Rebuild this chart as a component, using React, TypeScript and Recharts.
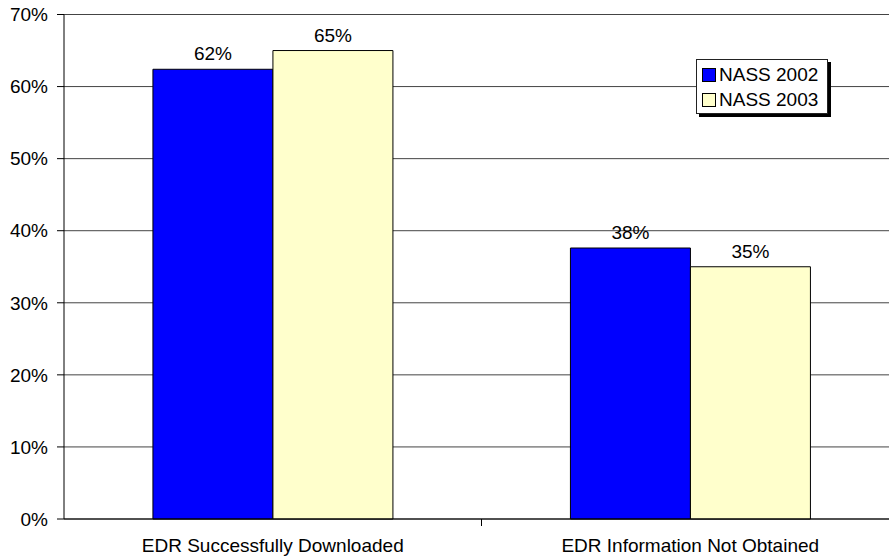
import React from 'react';
import { BarChart, Bar, XAxis, YAxis, CartesianGrid, LabelList } from 'recharts';

const categories = ['EDR Successfully Downloaded', 'EDR Information Not Obtained'];
const nass2002 = [62.4, 37.6];
const nass2003 = [65, 35];
const yTicks = [0, 10, 20, 30, 40, 50, 60, 70];

const series = [
  { key: 'nass2002', name: 'NASS 2002', color: '#0000FF' },
  { key: 'nass2003', name: 'NASS 2003', color: '#FFFFCC' },
];

const data = categories.map((name, i) => ({ name, nass2002: nass2002[i], nass2003: nass2003[i] }));

const FONT = '"Liberation Sans", Arial, sans-serif';

const pct = (v: any) => `${Math.round(Number(v))}%`;

// category label, plus the short divider tick between categories
const CategoryTick = (props: any) => {
  const { x, y, payload, index, visibleTicksCount } = props;
  const half = payload?.offset ?? 0;
  const axisY = y - 20;
  return (
    <g>
      <text x={x} y={y} dy="0.71em" textAnchor="middle" fontSize={19} fill="#000" fontFamily={FONT}>
        {payload.value}
      </text>
      {index < (visibleTicksCount ?? 2) - 1 && (
        <line x1={x + half} x2={x + half} y1={axisY} y2={axisY + 7} stroke="#000" />
      )}
    </g>
  );
};

const LegendBox = () => (
  <div
    style={{
      position: 'absolute',
      left: 696,
      top: 59,
      width: 132,
      height: 55,
      border: '1px solid #222',
      background: '#fff',
      boxShadow: '3px 3px 0 #000',
      fontFamily: FONT,
      fontSize: 19,
      color: '#000',
      paddingTop: 2,
      boxSizing: 'border-box',
    }}
  >
    {series.map((s) => (
      <div key={s.key} style={{ display: 'flex', alignItems: 'center', height: 25, paddingLeft: 5 }}>
        <span
          style={{
            display: 'inline-block',
            width: 12,
            height: 12,
            background: s.color,
            border: '1px solid #000',
            marginRight: 3,
          }}
        />
        {s.name}
      </div>
    ))}
  </div>
);

export default function App() {
  return (
    <div style={{ position: 'fixed', left: 0, top: 0, width: 889, height: 558, overflow: 'hidden', background: '#fff' }}>
      <BarChart
        width={920}
        height={558}
        data={data}
        margin={{ top: 14.5, right: 21, bottom: 0, left: 0 }}
        barCategoryGap="21.3%"
        barGap={0}
      >
        <CartesianGrid horizontal vertical={false} stroke="#444" strokeOpacity={1} />
        <XAxis
          dataKey="name"
          height={39}
          axisLine={{ stroke: '#000' }}
          tickLine={false}
          tickSize={7}
          tickMargin={13}
          interval={0}
          tick={<CategoryTick />}
        />
        <YAxis
          width={64}
          domain={[0, 70]}
          ticks={yTicks}
          tickFormatter={(v) => `${v}%`}
          axisLine={{ stroke: '#000' }}
          tickLine={{ stroke: '#000' }}
          tickSize={7}
          tickMargin={9}
          tick={{ fontSize: 19, fill: '#000', fontFamily: FONT }}
        />
        {series.map((s) => (
          <Bar key={s.key} dataKey={s.key} name={s.name} fill={s.color} stroke="#000" strokeWidth={1} isAnimationActive={false}>
            <LabelList dataKey={s.key} position="top" offset={9} formatter={pct} fontSize={19} fill="#000" fontFamily={FONT} />
          </Bar>
        ))}
      </BarChart>
      <LegendBox />
    </div>
  );
}
